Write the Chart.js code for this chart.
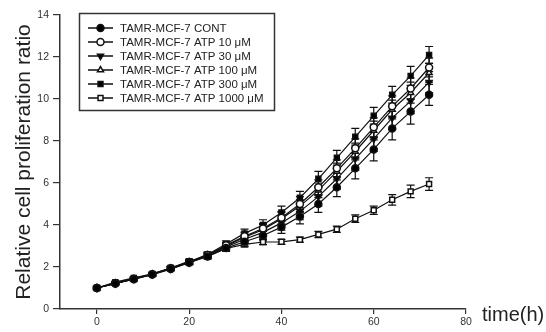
<!DOCTYPE html>
<html><head><meta charset="utf-8">
<script src="https://cdn.jsdelivr.net/npm/chart.js@4/dist/chart.umd.min.js"></script>
<style>html,body{margin:0;padding:0;background:#fff}#wrap{width:546px;height:332px}</style>
</head><body><div id="wrap"><canvas id="c" width="546" height="332"></canvas></div>
<script>
const timeHours = [0,4,8,12,16,20,24,28,32,36,40,44,48,52,56,60,64,68,72];
const seriesLabels = ['TAMR-MCF-7 CONT','TAMR-MCF-7 ATP 10 \u03bcM','TAMR-MCF-7 ATP 30 \u03bcM','TAMR-MCF-7 ATP 100 \u03bcM','TAMR-MCF-7 ATP 300 \u03bcM','TAMR-MCF-7 ATP 1000 \u03bcM'];
const contValues   = [1.0,1.22,1.42,1.64,1.90,2.20,2.50,2.90,3.20,3.50,3.90,4.40,5.00,5.80,6.70,7.60,8.60,9.40,10.20];
const atp10Values  = [1.0,1.22,1.44,1.65,1.94,2.24,2.57,3.03,3.46,3.83,4.35,5.00,5.80,6.70,7.65,8.65,9.65,10.50,11.50];
const atp30Values  = [1.0,1.21,1.43,1.65,1.92,2.22,2.53,2.96,3.32,3.65,4.10,4.65,5.35,6.20,7.15,8.10,9.10,9.90,10.80];
const atp100Values = [1.0,1.23,1.42,1.66,1.93,2.23,2.56,3.00,3.42,3.78,4.30,4.90,5.65,6.55,7.50,8.50,9.50,10.30,11.25];
const atp300Values = [1.0,1.23,1.43,1.66,1.95,2.25,2.60,3.10,3.60,4.00,4.60,5.30,6.20,7.20,8.20,9.20,10.20,11.10,12.10];
const atp1000Values= [1.0,1.28,1.48,1.67,1.95,2.28,2.50,2.88,3.08,3.19,3.20,3.30,3.55,3.80,4.30,4.70,5.20,5.60,5.95];
const contErr   = [0.05,0.05,0.06,0.07,0.08,0.10,0.12,0.15,0.20,0.25,0.30,0.35,0.40,0.45,0.50,0.55,0.55,0.60,0.50];
const atp10Err  = [0.05,0.05,0.06,0.07,0.08,0.10,0.12,0.15,0.20,0.25,0.30,0.35,0.35,0.40,0.45,0.45,0.50,0.50,0.45];
const atp30Err  = [0.05,0.05,0.06,0.07,0.08,0.10,0.12,0.18,0.22,0.28,0.35,0.40,0.45,0.50,0.55,0.60,0.55,0.60,0.50];
const atp100Err = [0.05,0.05,0.06,0.07,0.08,0.10,0.12,0.15,0.20,0.25,0.30,0.30,0.35,0.40,0.40,0.45,0.45,0.50,0.45];
const atp300Err = [0.05,0.05,0.06,0.07,0.08,0.10,0.12,0.15,0.20,0.25,0.30,0.30,0.35,0.35,0.40,0.40,0.40,0.45,0.40];
const atp1000Err= [0.05,0.05,0.06,0.07,0.08,0.10,0.12,0.12,0.12,0.12,0.12,0.12,0.15,0.15,0.18,0.20,0.25,0.30,0.30];
const xTickValues = [0,20,40,60,80];
const yTickValues = [0,2,4,6,8,10,12,14];
const xAxisTitle = 'time(h)';
const yAxisTitle = 'Relative cell proliferation ratio';

const seriesValues = [contValues,atp10Values,atp30Values,atp100Values,atp300Values,atp1000Values];
const seriesErrors = [contErr,atp10Err,atp30Err,atp100Err,atp300Err,atp1000Err];
const styles = [
  {pointStyle:'circle', fill:'#000', rot:0},
  {pointStyle:'circle', fill:'#fff', rot:0},
  {pointStyle:'triangle', fill:'#000', rot:180},
  {pointStyle:'triangle', fill:'#fff', rot:0},
  {pointStyle:'rect', fill:'#000', rot:0},
  {pointStyle:'rect', fill:'#fff', rot:0}
];
const INK = '#111';
const datasets = seriesValues.map((vals,i)=>({
  label: seriesLabels[i],
  data: timeHours.map((t,j)=>({x:t,y:vals[j]})),
  errors: seriesErrors[i],
  borderColor: INK, borderWidth: 1.2,
  pointStyle: styles[i].pointStyle, pointRotation: styles[i].rot,
  pointBackgroundColor: styles[i].fill, pointBorderColor: INK,
  pointBorderWidth: 1.5, pointRadius: 3.5, tension: 0
}));

const errorBarPlugin = {
  id:'errbars',
  beforeDatasetsDraw(chart){
    const ctx = chart.ctx, ys = chart.scales.y;
    ctx.save(); ctx.strokeStyle = INK; ctx.lineWidth = 1.2;
    chart.data.datasets.forEach((ds,di)=>{
      const meta = chart.getDatasetMeta(di);
      meta.data.forEach((pt,j)=>{
        const v = ds.data[j].y, e = ds.errors[j];
        const y1 = ys.getPixelForValue(v+e), y2 = ys.getPixelForValue(v-e);
        const x = pt.x;
        ctx.beginPath();
        ctx.moveTo(x,y1); ctx.lineTo(x,y2);
        ctx.moveTo(x-4,y1); ctx.lineTo(x+4,y1);
        ctx.moveTo(x-4,y2); ctx.lineTo(x+4,y2);
        ctx.stroke();
      });
    });
    ctx.restore();
  }
};

const decorPlugin = {
  id:'decor',
  afterDraw(chart){
    const ctx = chart.ctx;
    ctx.save();
    ctx.strokeStyle = '#333'; ctx.lineWidth = 1.5;
    ctx.strokeRect(79.5,13.5,195,97);
    chart.data.datasets.forEach((ds,i)=>{
      const y = 28 + 14*i;
      ctx.strokeStyle = INK; ctx.lineWidth = 1.5;
      ctx.beginPath(); ctx.moveTo(88,y); ctx.lineTo(113,y); ctx.stroke();
      ctx.fillStyle = styles[i].fill;
      Chart.helpers.drawPoint(ctx,{pointStyle:styles[i].pointStyle, rotation:styles[i].rot, radius:3.5, borderWidth:1.5},100.5,y);
      ctx.fillStyle = '#222'; ctx.font = '11.5px "Liberation Sans", Arial, sans-serif';
      ctx.textAlign='left'; ctx.textBaseline='middle';
      ctx.fillText(ds.label,120,y+0.5);
    });
    const xs = chart.scales.x, ys = chart.scales.y;
    ctx.fillStyle = '#222';
    ctx.font = '20px "Liberation Sans", Arial, sans-serif';
    ctx.textAlign='left'; ctx.textBaseline='middle';
    ctx.fillText(xAxisTitle, xs.right+16, xs.top+6);
    ctx.translate(24,(ys.top+ys.bottom)/2);
    ctx.rotate(-Math.PI/2);
    ctx.font = '21px "Liberation Sans", Arial, sans-serif';
    ctx.textAlign='center';
    ctx.fillText(yAxisTitle,0,0);
    ctx.restore();
  }
};

new Chart(document.getElementById('c'),{
  type:'line',
  data:{datasets},
  options:{
    responsive:false, animation:false, devicePixelRatio:1,
    layout:{padding:{top:15,right:80,left:0,bottom:0}},
    plugins:{legend:{display:false},tooltip:{enabled:false}},
    scales:{
      x:{type:'linear',min:-8,max:80,
        afterBuildTicks:s=>{s.ticks = xTickValues.map(v=>({value:v}));},
        afterFit:s=>{s.height=23;},
        grid:{drawOnChartArea:false,drawTicks:true,tickLength:5,color:'#333',lineWidth:1.2},
        border:{color:'#333',width:1.5},
        ticks:{font:{size:10.5,family:'"Liberation Sans", Arial'},color:'#333',padding:2,maxRotation:0,autoSkip:false}
      },
      y:{type:'linear',min:0,max:14,
        afterBuildTicks:s=>{s.ticks = yTickValues.map(v=>({value:v}));},
        afterFit:s=>{s.width=60;},
        grid:{drawOnChartArea:false,drawTicks:true,tickLength:7,color:'#333',lineWidth:1.2},
        border:{color:'#333',width:1.5},
        ticks:{font:{size:10.5,family:'"Liberation Sans", Arial'},color:'#333',padding:4,autoSkip:false}
      }
    }
  },
  plugins:[errorBarPlugin,decorPlugin]
});
</script></body></html>
